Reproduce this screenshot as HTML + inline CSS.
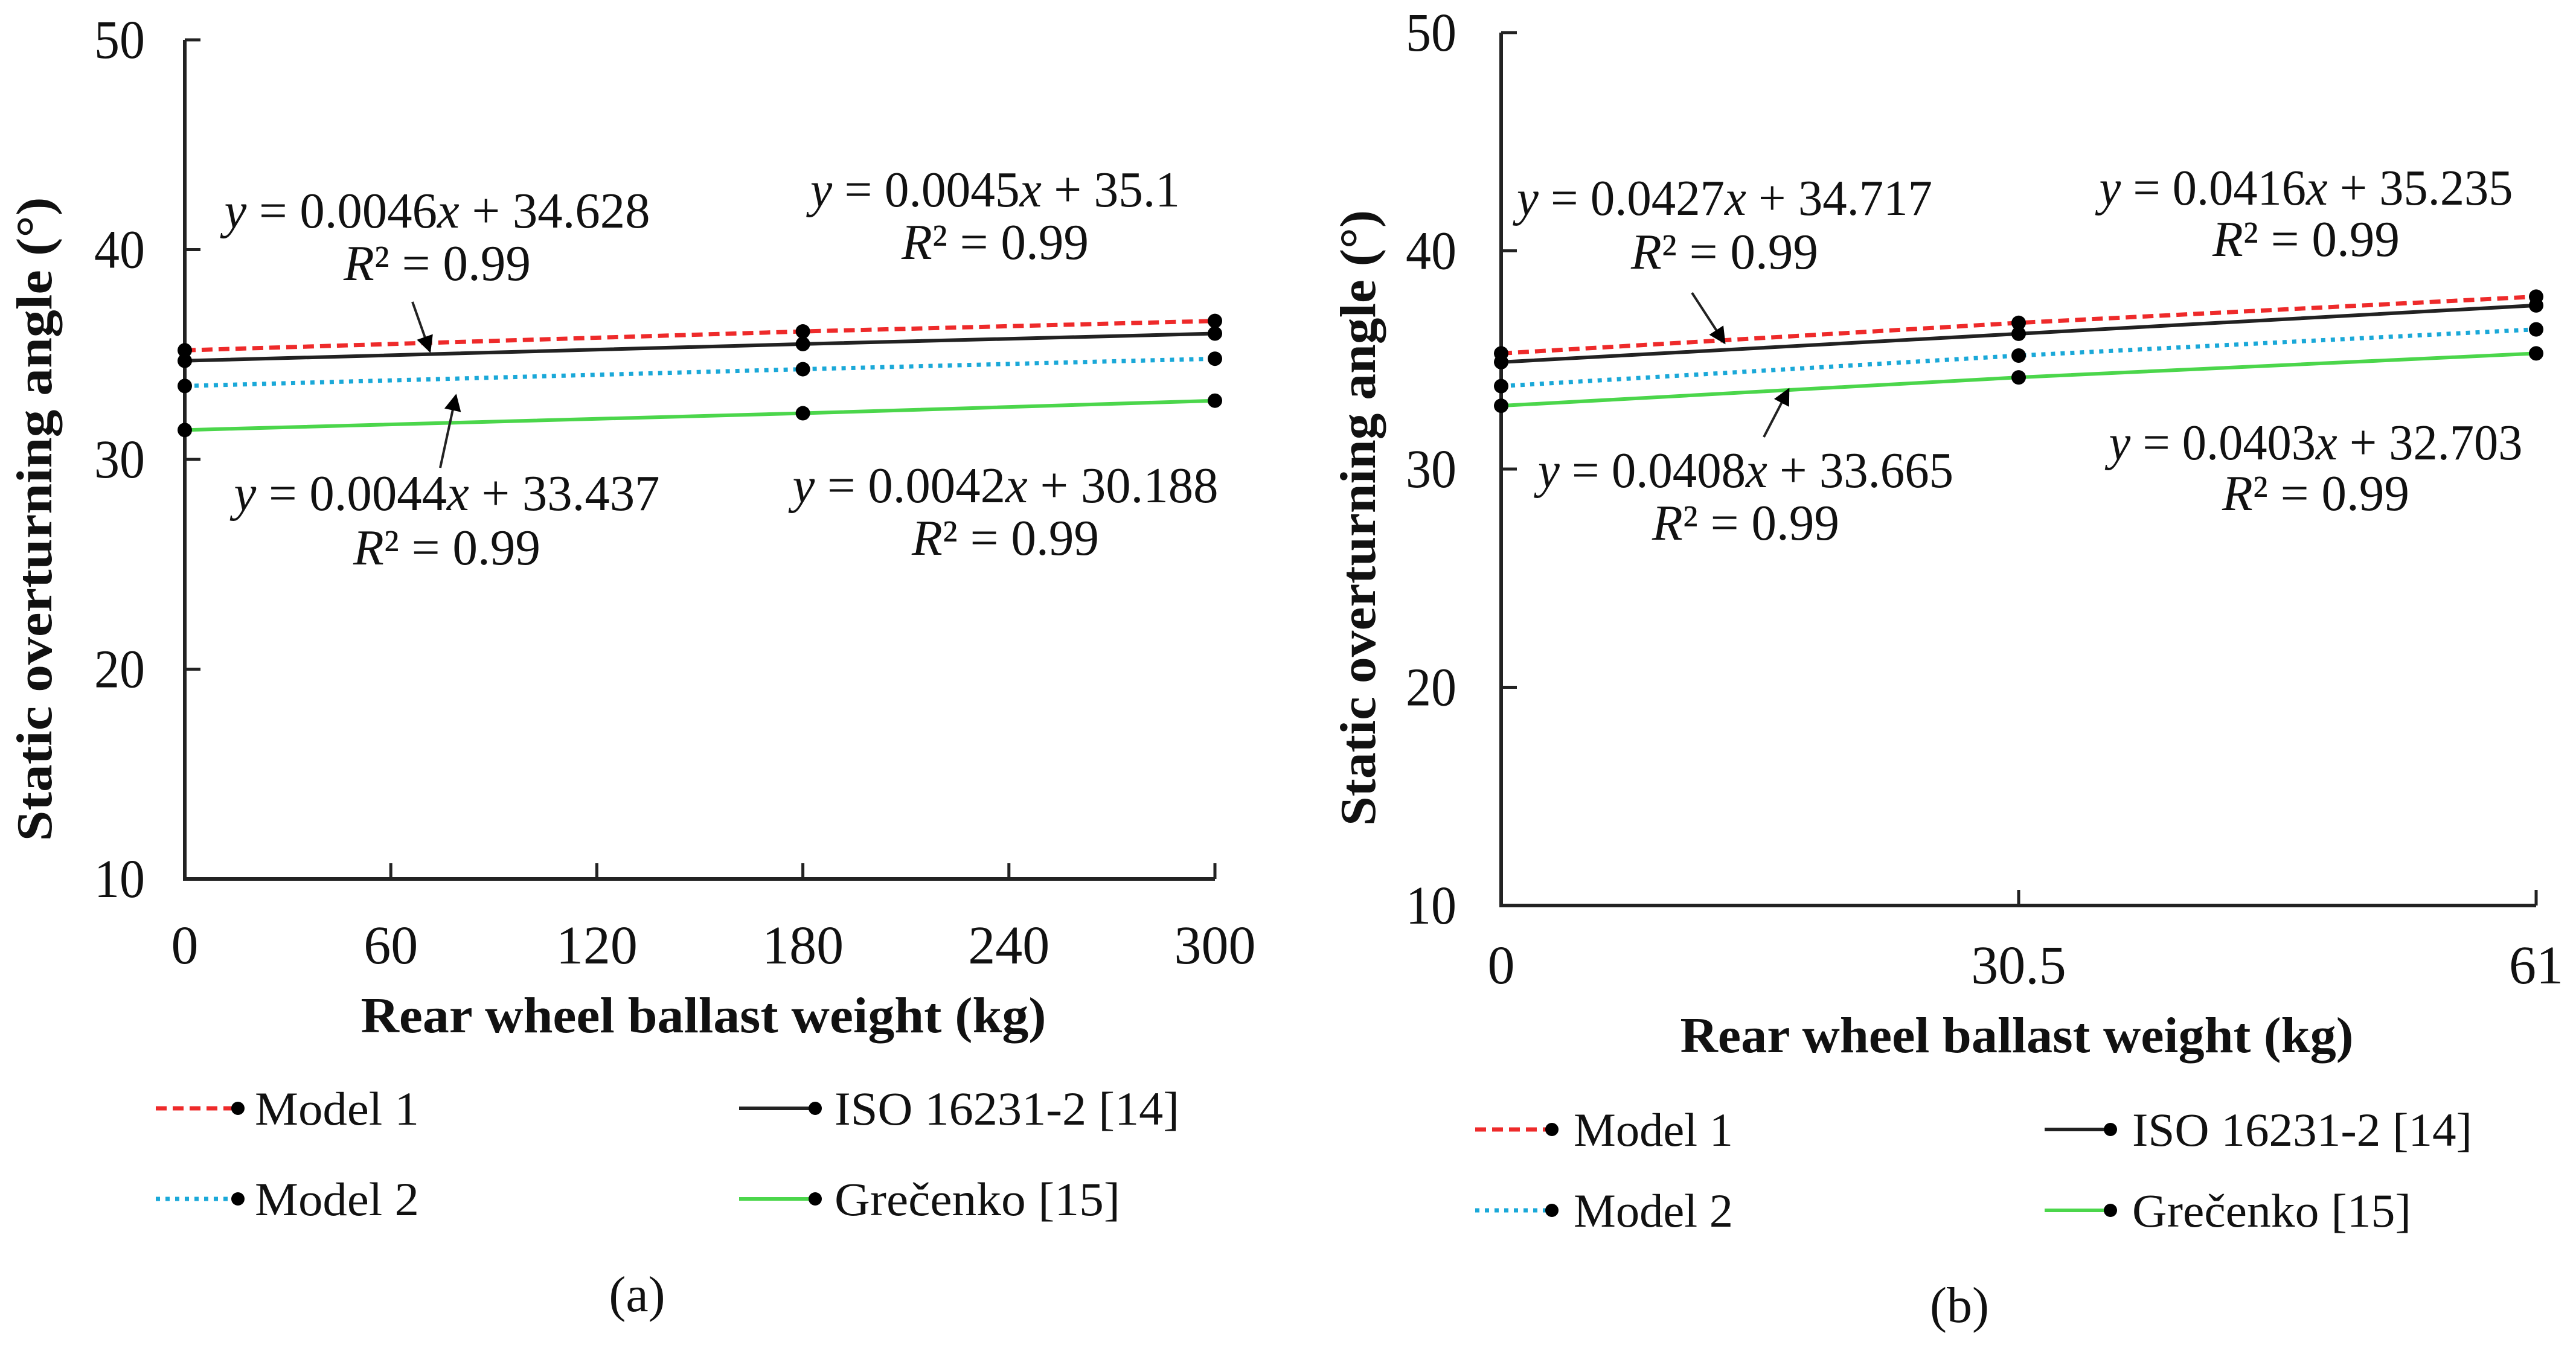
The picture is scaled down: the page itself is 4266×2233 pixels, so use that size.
<!DOCTYPE html>
<html><head><meta charset="utf-8"><style>
html,body{margin:0;padding:0;background:#fff;}
svg{display:block;}
text{font-family:"Liberation Serif",serif;fill:#111;}
</style></head>
<body>
<svg id="fig" width="4266" height="2233" viewBox="0 0 4266 2233" xmlns="http://www.w3.org/2000/svg">
<defs>
<marker id="ah" viewBox="0 0 10 10" refX="9" refY="5" markerWidth="10" markerHeight="7" orient="auto-start-reverse"><path d="M0,0 L10,5 L0,10 z" fill="#000"/></marker>
</defs>
</svg>
<script>
// ---- Chart (a) data ----
const aX = [0, 180, 300];
const aModel1 = [35.2, 36.1, 36.6];
const aISO = [34.7, 35.5, 36.0];
const aModel2 = [33.5, 34.3, 34.8];
const aGrecenko = [31.4, 32.2, 32.8];
const aXTicks = [0, 60, 120, 180, 240, 300];
const aXTickLabels = ["0", "60", "120", "180", "240", "300"];
// ---- Chart (b) data ----
const bX = [0, 30.5, 61];
const bModel1 = [35.3, 36.7, 37.9];
const bISO = [34.9, 36.2, 37.5];
const bModel2 = [33.8, 35.2, 36.4];
const bGrecenko = [32.9, 34.2, 35.3];
const bXTicks = [0, 30.5, 61];
const bXTickLabels = ["0", "30.5", "61"];
const yTicks = [10, 20, 30, 40, 50];
const yTickLabels = ["10", "20", "30", "40", "50"];
const seriesNames = ["Model 1", "ISO 16231-2 [14]", "Model 2", "Grečenko [15]"];

const NS = "http://www.w3.org/2000/svg";
const svg = document.getElementById("fig");
function mk(tag, attrs, parent) {
  const e = document.createElementNS(NS, tag);
  for (const k in attrs) e.setAttribute(k, attrs[k]);
  (parent || svg).appendChild(e);
  return e;
}

const styles = [
  {stroke:"#ee2a2a", dash:"18,10", w:7},
  {stroke:"#222", dash:"", w:6},
  {stroke:"#1aa8d8", dash:"7,9", w:7},
  {stroke:"#4bd64b", dash:"", w:6}
];

function drawChart(cfg) {
  const g = mk("g", {});
  
  
  const xs = v => cfg.x0 + (v - cfg.xmin) / (cfg.xmax - cfg.xmin) * (cfg.x1 - cfg.x0);
  const ys = v => cfg.y0 - (v - 10) / 40 * (cfg.y0 - cfg.y1);
  const ax = mk("path", {d:`M${cfg.x0},${cfg.y1} V${cfg.y0} H${cfg.x1}`, stroke:"#222", "stroke-width":6, fill:"none"}, g);
  
  
  yTicks.forEach((t, i) => {
    const y = ys(t);
    mk("line", {x1:cfg.x0, x2:cfg.x0 + 26, y1:y, y2:y, stroke:"#222", "stroke-width":5}, g);
    const tx = mk("text", {x:cfg.ylabX, y:y + 30, "text-anchor":"end", "font-size":90, textLength:84 * yTickLabels[i].length / 2, lengthAdjust:"spacingAndGlyphs"}, g);
    tx.textContent = yTickLabels[i];
    
    
  });
  cfg.xt.forEach((t, i) => {
    const x = xs(t);
    mk("line", {x1:x, x2:x, y1:cfg.y0, y2:cfg.y0 - 26, stroke:"#222", "stroke-width":5}, g);
    const tx = mk("text", {x:x, y:cfg.xlabY, "text-anchor":"middle", "font-size":90}, g);
    tx.textContent = cfg.xtl[i];
    
    
  });
  cfg.series.forEach((s, k) => {
    const st = styles[k];
    const pts = cfg.xv.map((xv, i) => xs(xv) + "," + ys(s[i])).join(" ");
    const pl = mk("polyline", {points:pts, fill:"none", stroke:st.stroke, "stroke-width":st.w, "stroke-dasharray":st.dash}, g);
    
    
    cfg.xv.forEach((xv, i) => {
      const c = mk("circle", {cx:xs(xv), cy:ys(s[i]), r:12, fill:"#000"}, g);
      
      
    });
  });
  const xt = mk("text", {x:cfg.xtx, y:cfg.xty, "text-anchor":"middle", "font-size":84, "font-weight":"bold", textLength:cfg.xtw, lengthAdjust:"spacingAndGlyphs"}, g);
  xt.textContent = "Rear wheel ballast weight (kg)";
  
  
  const yt = mk("text", {x:0, y:0, "text-anchor":"middle", "font-size":84, "font-weight":"bold", textLength:cfg.ytl, lengthAdjust:"spacingAndGlyphs", transform:`translate(${cfg.ytx},${cfg.yty}) rotate(-90)`}, g);
  yt.textContent = "Static overturning angle (°)";
  
  
  cfg.eqs.forEach(e => {
    const t1 = mk("text", {x:e[0], y:e[1], "text-anchor":"middle", "font-size":84, textLength:e[3], lengthAdjust:"spacingAndGlyphs"}, g);
    t1.innerHTML = e[2];
    
    
    const t2 = mk("text", {x:e[0], y:e[4], "text-anchor":"middle", "font-size":84, textLength:310, lengthAdjust:"spacingAndGlyphs"}, g);
    t2.innerHTML = '<tspan font-style="italic">R</tspan>² = 0.99';
    
    
  });
  cfg.arrows.forEach(a => {
    const l = mk("line", {x1:a[0], y1:a[1], x2:a[2], y2:a[3], stroke:"#222", "stroke-width":4, "marker-end":"url(#ah)"}, g);
    
    
  });
  cfg.leg.forEach((L, k) => {
    const st = styles[k];
    const lg = mk("g", {}, g);
    
    
    mk("line", {x1:L[0], x2:L[1], y1:L[2], y2:L[2], stroke:st.stroke, "stroke-width":st.w, "stroke-dasharray":st.dash}, lg);
    mk("circle", {cx:L[1], cy:L[2], r:11, fill:"#000"}, lg);
    const t = mk("text", {x:L[3], y:L[2] + 27, "font-size":78, textLength:L[4], lengthAdjust:"spacingAndGlyphs"}, lg);
    t.textContent = seriesNames[k];
  });
  const cap = mk("text", {x:cfg.capx, y:cfg.capy, "text-anchor":"middle", "font-size":84}, g);
  cap.textContent = cfg.cap;
  
  
}

const it = s => s.replace(/y/, '<tspan font-style="italic">y</tspan>').replace(/(\d)x/, '$1<tspan font-style="italic">x</tspan>');

drawChart({
  name:"chart-a", x0:306, x1:2012, y0:1456, y1:66, xmin:0, xmax:300,
  xv:aX, series:[aModel1, aISO, aModel2, aGrecenko], xt:aXTicks, xtl:aXTickLabels,
  ylabX:240, xlabY:1596, xtx:1165, xty:1710, xtw:1135, ytx:85, yty:860, ytl:1067,
  eqs:[
    [724, 377, it("y = 0.0046x + 34.628"), 705, 464],
    [1648, 342, it("y = 0.0045x + 35.1"), 612, 429],
    [740, 845, it("y = 0.0044x + 33.437"), 705, 935],
    [1665, 832, it("y = 0.0042x + 30.188"), 705, 919]
  ],
  arrows:[[683, 500, 712, 582], [729, 775, 755, 655]],
  leg:[[258, 394, 1836, 422, 272], [1224, 1350, 1836, 1382, 571], [258, 394, 1986, 422, 272], [1224, 1350, 1986, 1382, 473]],
  cap:"(a)", capx:1055, capy:2172
});
drawChart({
  name:"chart-b", x0:2486, x1:4200, y0:1500, y1:54, xmin:0, xmax:61,
  xv:bX, series:[bModel1, bISO, bModel2, bGrecenko], xt:bXTicks, xtl:bXTickLabels,
  ylabX:2412, xlabY:1629, xtx:3340, xty:1743, xtw:1115, ytx:2277, yty:858, ytl:1020,
  eqs:[
    [2856, 356, it("y = 0.0427x + 34.717"), 688, 445],
    [3819, 339, it("y = 0.0416x + 35.235"), 685, 424],
    [2891, 807, it("y = 0.0408x + 33.665"), 688, 894],
    [3835, 761, it("y = 0.0403x + 32.703"), 685, 845]
  ],
  arrows:[[2802, 485, 2856, 568], [2921, 724, 2962, 645]],
  leg:[[2443, 2570, 1871, 2606, 264], [3386, 3495, 1871, 3531, 563], [2443, 2570, 2005, 2606, 264], [3386, 3495, 2005, 3531, 462]],
  cap:"(b)", capx:3245, capy:2190
});
</script>
</body></html>
